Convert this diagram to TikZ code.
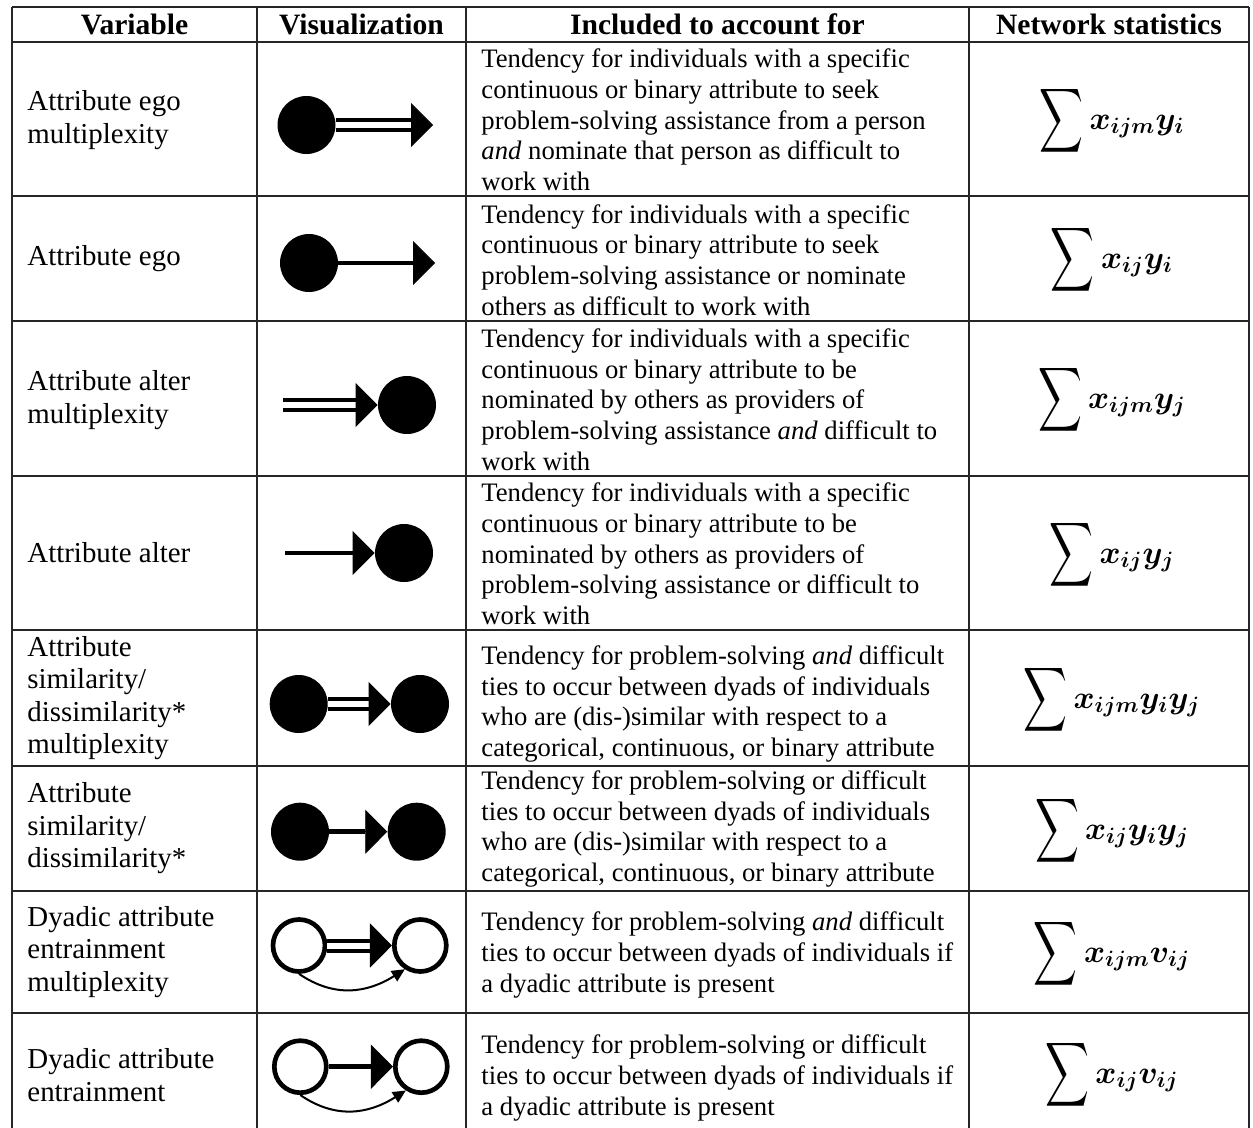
\documentclass[tikz,border=0pt]{standalone}
\usepackage{fontspec}
\setmainfont{Liberation Serif}
\usepackage{amsmath}
\usetikzlibrary{arrows.meta, positioning}

\newcommand{\netsum}{\mathop{\vcenter{\hbox{\scalebox{0.95}[1.4]{$\displaystyle\sum$}}}}\nolimits}

\begin{document}
\begin{tikzpicture}[
    x=0.45pt, y=-0.45pt,
    cell/.style={anchor=west, align=left, inner sep=0pt, font=\fontsize{12}{13.8}\selectfont},
    varcell/.style={anchor=west, align=left, inner sep=0pt, font=\fontsize{13}{14.6}\selectfont},
    headcell/.style={inner sep=0pt, font=\fontsize{13.3}{15}\selectfont\bfseries},
    stat/.style={inner sep=0pt, font=\fontsize{14}{16}\selectfont\boldmath},
    dot/.style={circle, fill=black, minimum size=26.1pt, inner sep=0pt},
    ring/.style={circle, draw=black, line width=2.1pt, minimum size=23.4pt, inner sep=0pt},
    shaft/.style={line width=2pt},
    dblshaft/.style={line width=1.8pt, double=white, double distance=2.7pt},
    head/.style={-{Triangle[length=9.9pt, width=19.8pt]}, line width=0.4pt},
    bendarrow/.style={-{Triangle[length=5.85pt, width=5.4pt]}, line width=0.9pt},
    rule/.style={line width=0.7pt, draw=black!85}
]
    \useasboundingbox (0,0) rectangle (1253,1128);

    % Table rules
    \foreach \y in {7,42,196,321,476,630,766,891,1013}
        \draw[rule] (12,\y) -- (1249,\y);
    \foreach \x in {12,257,466,969,1249}
        \draw[rule] (\x,7) -- (\x,1128);

    % Header
    \node[headcell] (hvar) at (134.5,24) {Variable};
    \node[headcell] (hviz) at (361.5,24) {Visualization};
    \node[headcell] (hacc) at (717.5,24) {Included to account for};
    \node[headcell] (hnet) at (1109,24) {Network statistics};

    % Variables
    \node[varcell] (var1) at (27,120) {Attribute ego\\multiplexity};
    \node[varcell] (var2) at (27,258.5) {Attribute ego};
    \node[varcell] (var3) at (27,400) {Attribute alter\\multiplexity};
    \node[varcell] (var4) at (27,553) {Attribute alter};
    \node[varcell] (var5) at (27,698) {Attribute\\similarity/\\dissimilarity*\\multiplexity};
    \node[varcell] (var6) at (27,828.5) {Attribute\\similarity/\\dissimilarity*};
    \node[varcell] (var7) at (27,952) {Dyadic attribute\\entrainment\\multiplexity};
    \node[varcell] (var8) at (27,1075) {Dyadic attribute\\entrainment};

    % Descriptions
    \node[cell] (acc1) at (481,120) {Tendency for individuals with a specific\\continuous or binary attribute to seek\\problem-solving assistance from a person\\\textit{and} nominate that person as difficult to\\work with};
    \node[cell] (acc2) at (481,260) {Tendency for individuals with a specific\\continuous or binary attribute to seek\\problem-solving assistance or nominate\\others as difficult to work with};
    \node[cell] (acc3) at (481,399.5) {Tendency for individuals with a specific\\continuous or binary attribute to be\\nominated by others as providers of\\problem-solving assistance \textit{and} difficult to\\work with};
    \node[cell] (acc4) at (481,554) {Tendency for individuals with a specific\\continuous or binary attribute to be\\nominated by others as providers of\\problem-solving assistance or difficult to\\work with};
    \node[cell] (acc5) at (481,704) {Tendency for problem-solving \textit{and} difficult\\ties to occur between dyads of individuals\\who are (dis-)similar with respect to a\\categorical, continuous, or binary attribute};
    \node[cell] (acc6) at (481,829) {Tendency for problem-solving or difficult\\ties to occur between dyads of individuals\\who are (dis-)similar with respect to a\\categorical, continuous, or binary attribute};
    \node[cell] (acc7) at (481,955) {Tendency for problem-solving \textit{and} difficult\\ties to occur between dyads of individuals if\\a dyadic attribute is present};
    \node[cell] (acc8) at (481,1078) {Tendency for problem-solving or difficult\\ties to occur between dyads of individuals if\\a dyadic attribute is present};

    % Network statistics
    \node[stat] (net1) at (1112,121) {$\netsum x_{ijm}y_i$};
    \node[stat] (net2) at (1112,260) {$\netsum x_{ij}y_i$};
    \node[stat] (net3) at (1112,400) {$\netsum x_{ijm}y_j$};
    \node[stat] (net4) at (1112,555) {$\netsum x_{ij}y_j$};
    \node[stat] (net5) at (1112,700) {$\netsum x_{ijm}y_iy_j$};
    \node[stat] (net6) at (1112,831) {$\netsum x_{ij}y_iy_j$};
    \node[stat] (net7) at (1112,954) {$\netsum x_{ijm}v_{ij}$};
    \node[stat] (net8) at (1112,1075) {$\netsum x_{ij}v_{ij}$};

    % Visualizations
    \node[dot] (ego1) at (306.5,125) {};
    \coordinate (b1) at (411,125);
    \coordinate (e1) at (433,125);
    \draw[dblshaft] (ego1) -- (b1);
    \draw[head] (b1) -- (e1);

    \node[dot] (ego2) at (309,263) {};
    \coordinate (b2) at (413,263);
    \coordinate (e2) at (435,263);
    \draw[shaft] (ego2) -- (b2);
    \draw[head] (b2) -- (e2);

    \node[dot] (alt3) at (407,405) {};
    \coordinate (s3) at (283,405);
    \coordinate[left=9.9pt of alt3.west] (b3);
    \draw[dblshaft] (s3) -- (b3);
    \draw[head] (b3) -- (alt3.west);

    \node[dot] (alt4) at (404,553) {};
    \coordinate (s4) at (285,553);
    \coordinate[left=9.9pt of alt4.west] (b4);
    \draw[shaft] (s4) -- (b4);
    \draw[head] (b4) -- (alt4.west);

    \node[dot] (sim5l) at (298.7,704) {};
    \node[dot] (sim5r) at (420,704) {};
    \coordinate[left=9.9pt of sim5r.west] (b5);
    \draw[dblshaft] (sim5l) -- (b5);
    \draw[head] (b5) -- (sim5r.west);

    \node[dot] (sim6l) at (300,831.7) {};
    \node[dot] (sim6r) at (416.7,831.7) {};
    \coordinate[left=9.9pt of sim6r.west] (b6);
    \draw[shaft] (sim6l) -- (b6);
    \draw[head] (b6) -- (sim6r.west);

    \node[ring] (dya7l) at (299,945.5) {};
    \node[ring] (dya7r) at (420.3,945.5) {};
    \coordinate[left=9.9pt of dya7r.west] (b7);
    \draw[dblshaft] (dya7l) -- (b7);
    \draw[head] (b7) -- (dya7r.west);
    \draw[bendarrow] (dya7l.south) .. controls +(35,24) and +(-38,24) .. (dya7r.237);

    \node[ring] (dya8l) at (300.3,1066.7) {};
    \node[ring] (dya8r) at (421.3,1066.7) {};
    \coordinate[left=9.9pt of dya8r.west] (b8);
    \draw[shaft] (dya8l) -- (b8);
    \draw[head] (b8) -- (dya8r.west);
    \draw[bendarrow] (dya8l.south) .. controls +(35,24) and +(-38,24) .. (dya8r.237);
\end{tikzpicture}
\end{document}
